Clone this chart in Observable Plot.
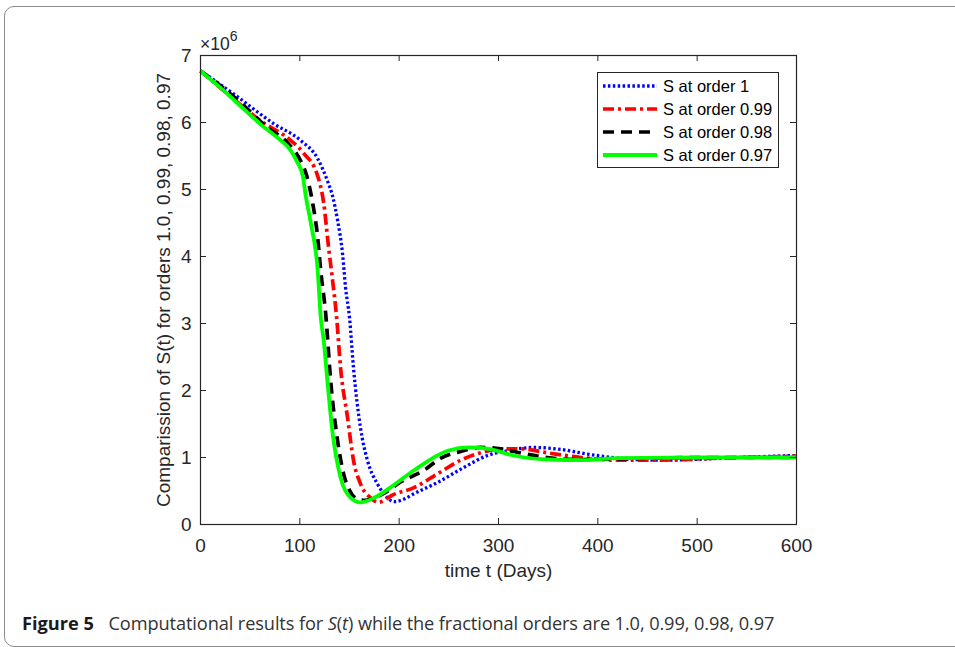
<!DOCTYPE html>
<html>
<head>
<meta charset="utf-8">
<script src="https://cdn.jsdelivr.net/npm/d3@7"></script>
<script src="https://cdn.jsdelivr.net/npm/@observablehq/plot@0.6"></script>
<style>
  html, body { margin: 0; padding: 0; background: #fff; overflow: hidden; width: 955px; height: 647px; }
  #frame { position: absolute; left: 4px; top: 6px; width: 1000px; height: 639px; border: 1px solid #8c8c8c; border-radius: 10px; }
  #chart { position: absolute; left: 0; top: 0; }
  #caption { position: absolute; left: 22px; top: 611px; font-family: "Open Sans", "Noto Sans", sans-serif; font-size: 18.2px; color: #333; white-space: nowrap; letter-spacing: -0.1px; }
  #caption b { color: #1a1a1a; font-weight: 700; margin-right: 10px; letter-spacing: 0; }
</style>
</head>
<body>
<div id="frame"></div>
<div id="chart"></div>
<div id="caption"><b>Figure 5</b> Computational results for <i>S</i>(<i>t</i>) while the fractional orders are 1.0, 0.99, 0.98, 0.97</div>
<script>
// Values in units of 10^6
const seriesNames = ["S at order 1", "S at order 0.99", "S at order 0.98", "S at order 0.97"];

const tOrder1 = [0, 33, 74, 101, 118, 128, 133, 138, 143, 146, 150, 154, 161, 168, 178, 188, 195, 205, 215, 239, 265, 289, 309, 335, 363, 390, 420, 460, 495, 540, 600];
const sOrder1 = [6.77, 6.43, 5.98, 5.73, 5.46, 5.12, 4.9, 4.54, 4.04, 3.54, 3.09, 2.34, 1.45, 0.96, 0.61, 0.40, 0.34, 0.38, 0.46, 0.63, 0.85, 1.03, 1.10, 1.15, 1.12, 1.05, 0.99, 0.96, 0.97, 1.0, 1.03];

const tOrder099 = [0, 27, 60, 91, 104, 118, 124, 129, 133, 137, 141, 148, 154, 161, 171, 179, 186, 191, 215, 239, 262, 282, 302, 322, 349, 383, 420, 460, 520, 600];
const sOrder099 = [6.77, 6.43, 6.03, 5.73, 5.54, 5.2, 4.8, 4.13, 3.64, 3.1, 2.34, 1.6, 0.96, 0.61, 0.40, 0.33, 0.37, 0.42, 0.55, 0.76, 0.96, 1.07, 1.13, 1.13, 1.07, 1.0, 0.96, 0.96, 0.99, 1.02];

const tOrder098 = [0, 20, 40, 67, 88, 101, 107, 113, 118, 121, 126, 131, 138, 144, 150, 158, 166, 175, 184, 201, 225, 242, 262, 282, 302, 325, 349, 380, 420, 500, 600];
const sOrder098 = [6.77, 6.55, 6.3, 5.93, 5.69, 5.42, 5.2, 4.79, 4.28, 3.79, 3.15, 2.15, 1.25, 0.76, 0.51, 0.38, 0.36, 0.40, 0.46, 0.63, 0.81, 0.99, 1.09, 1.15, 1.13, 1.06, 1.0, 0.97, 0.98, 1.0, 1.0];

const tOrder097 = [0, 20, 40, 60, 80, 90, 97, 103, 106, 111, 118, 121, 124, 128, 133, 141, 151, 161, 175, 191, 215, 249, 270, 290, 315, 350, 385, 420, 500, 600];
const sOrder097 = [6.77, 6.52, 6.25, 5.98, 5.74, 5.6, 5.42, 5.2, 4.9, 4.5, 3.79, 3.1, 2.75, 2.1, 1.36, 0.70, 0.40, 0.33, 0.40, 0.55, 0.81, 1.10, 1.15, 1.13, 1.03, 0.97, 0.96, 0.99, 1.0, 1.0];

const xTicks = [0, 100, 200, 300, 400, 500, 600];
const yTicks = [0, 1, 2, 3, 4, 5, 6, 7];

const colors = ["#0000ff", "#ff0000", "#000000", "#00ff00"];
const dashes = ["2.5,2.4", "11,4,3,4", "11,7", null];
const widths = [3.3, 3.7, 3.7, 3.8];

const tArrays = [tOrder1, tOrder099, tOrder098, tOrder097];
const sArrays = [sOrder1, sOrder099, sOrder098, sOrder097];
const series = tArrays.map((ts, i) => ts.map((t, j) => ({t, v: sArrays[i][j]})));

const axisColor = "#262626";
const font = "'Liberation Sans', Arial, Helvetica, sans-serif";

const W = 830, H = 590;
const mL = 200, mR = 34, mT = 55, mB = 66;
const tickLenX = 6 * 600 / (W - mL - mR);
const tickLenY = 6 * 7 / (H - mT - mB);

const lineMarks = series.map((d, i) => Plot.line(d, {
  x: "t", y: "v", stroke: colors[i], strokeWidth: widths[i],
  strokeDasharray: dashes[i], curve: "monotone-x", strokeLinecap: "butt"
}));

const chart = Plot.plot({
  width: W, height: H,
  marginLeft: mL, marginRight: mR, marginTop: mT, marginBottom: mB,
  style: { fontFamily: font, fontSize: "19px", color: axisColor, background: "transparent" },
  x: { domain: [0, 600] },
  y: { domain: [0, 7] },
  marks: [
    ...lineMarks,
    Plot.ruleX(xTicks, { x: d => d, y1: 0, y2: tickLenY, stroke: axisColor }),
    Plot.ruleX(xTicks, { x: d => d, y1: 7, y2: 7 - tickLenY, stroke: axisColor }),
    Plot.ruleY(yTicks, { y: d => d, x1: 0, x2: tickLenX, stroke: axisColor }),
    Plot.ruleY(yTicks, { y: d => d, x1: 600, x2: 600 - tickLenX, stroke: axisColor }),
    Plot.frame({ stroke: axisColor, strokeWidth: 1.2 }),
    Plot.axisX(xTicks, { tickSize: 0, tickPadding: 14, fontSize: 19, tickFormat: "d", label: "time t (Days)", labelAnchor: "center", labelArrow: "none", labelOffset: 52 }),
    Plot.axisY(yTicks, { tickSize: 0, tickPadding: 9, fontSize: 19, tickFormat: "d", label: "Comparission of S(t) for orders 1.0, 0.99, 0.98, 0.97", labelAnchor: "center", labelArrow: "none", labelOffset: 44 })
  ]
});

document.getElementById("chart").appendChild(chart);

// multiplier label and legend
const svg = d3.select(chart);
const mult = svg.append("text").attr("x", 200).attr("y", 50).attr("fill", axisColor)
  .attr("text-anchor", "start").attr("font-family", font).attr("font-size", 17.5);
mult.append("tspan").text("\u00d710");
mult.append("tspan").attr("dy", -9).attr("font-size", 14).text("6");

const lg = svg.append("g").attr("text-anchor", "start");
lg.append("rect").attr("x", 597.5).attr("y", 72.5).attr("width", 181).attr("height", 95)
  .attr("fill", "#fff").attr("stroke", axisColor).attr("stroke-width", 1);
const rowsY = [86, 109, 132, 155];
seriesNames.forEach((name, i) => {
  lg.append("line").attr("x1", 603).attr("x2", 657).attr("y1", rowsY[i]).attr("y2", rowsY[i])
    .attr("stroke", colors[i]).attr("stroke-width", widths[i])
    .attr("stroke-dasharray", dashes[i]);
  lg.append("text").attr("x", 663).attr("y", rowsY[i]).attr("dy", "0.36em")
    .attr("text-anchor", "start")
    .attr("font-family", font).attr("font-size", 16.5).attr("fill", "#000").text(name);
});
</script>
</body>
</html>
